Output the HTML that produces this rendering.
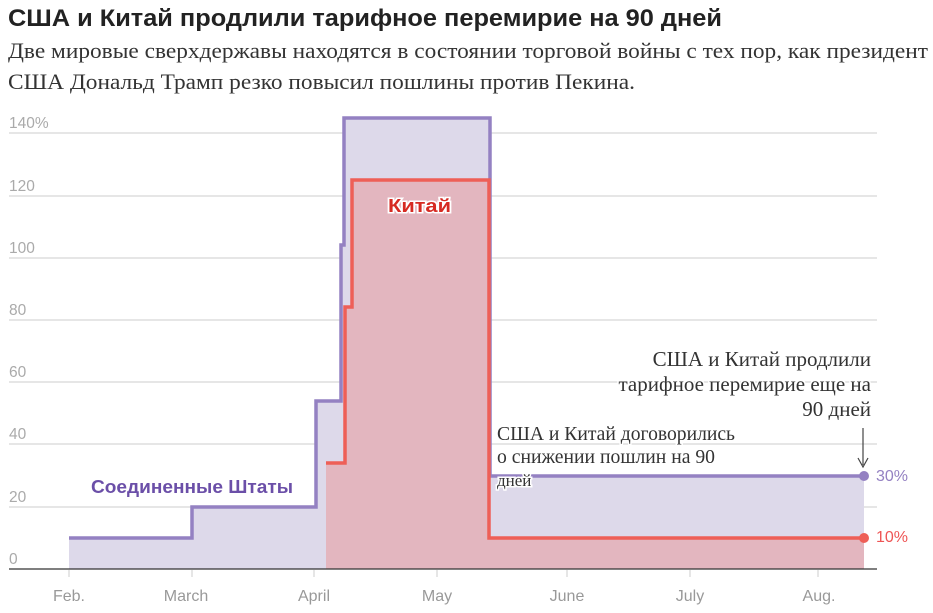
<!DOCTYPE html>
<html><head><meta charset="utf-8"><style>
body{margin:0;background:#fff;width:933px;height:613px;overflow:hidden}
</style></head><body>
<svg width="933" height="613" xmlns="http://www.w3.org/2000/svg" style="position:absolute;left:0;top:0">
<text x="8" y="26" font-family="Liberation Sans, sans-serif" font-weight="bold" font-size="24" fill="#222" textLength="714" lengthAdjust="spacingAndGlyphs">США и Китай продлили тарифное перемирие на 90 дней</text>
<text font-family="Liberation Serif, serif" font-size="22" fill="#333"><tspan x="8" y="58" textLength="920" lengthAdjust="spacingAndGlyphs">Две мировые сверхдержавы находятся в состоянии торговой войны с тех пор, как президент</tspan><tspan x="8" y="89" textLength="627" lengthAdjust="spacingAndGlyphs">США Дональд Трамп резко повысил пошлины против Пекина.</tspan></text>
<g stroke="#ccc" stroke-width="1">
<line x1="9" x2="877" y1="133" y2="133"/><line x1="9" x2="877" y1="196" y2="196"/><line x1="9" x2="877" y1="258" y2="258"/><line x1="9" x2="877" y1="320" y2="320"/><line x1="9" x2="877" y1="382" y2="382"/><line x1="9" x2="877" y1="444" y2="444"/><line x1="9" x2="877" y1="507" y2="507"/>
</g>
<g font-family="Liberation Sans, sans-serif" font-size="15.5" fill="#aaa">
<text x="9" y="128">140%</text><text x="9" y="191">120</text><text x="9" y="253">100</text><text x="9" y="315">80</text><text x="9" y="377">60</text><text x="9" y="439">40</text><text x="9" y="502">20</text><text x="9" y="564">0</text>
</g>
<path d="M69 569 V538 H192 V507 H316 V401 H341 V245 H344 V117 H490 V476 H864 V569 Z" fill="#ddd9ea"/>
<path d="M326 569 V463 H345 V307 H352 V180 H489 V538 H864 V569 Z" fill="#e3b6bf"/>
<path d="M69 538 H192 V507 H316 V401 H341 V245 H344 V118 H490 V476 H864" fill="none" stroke="#9481c2" stroke-width="3.5"/>
<path d="M326 463 H345 V307 H352 V180 H489 V538 H864" fill="none" stroke="#ee5f57" stroke-width="3.5"/>
<circle cx="864" cy="476" r="5" fill="#9481c2"/><circle cx="864" cy="538" r="5" fill="#ee5f57"/>
<line x1="9" x2="877" y1="569" y2="569" stroke="#333" stroke-width="1.2"/>
<g stroke="#ccc"><line x1="69" x2="69" y1="570" y2="577"/><line x1="192" x2="192" y1="570" y2="577"/><line x1="314" x2="314" y1="570" y2="577"/><line x1="437" x2="437" y1="570" y2="577"/><line x1="567" x2="567" y1="570" y2="577"/><line x1="690" x2="690" y1="570" y2="577"/><line x1="818" x2="818" y1="570" y2="577"/></g>
<g font-family="Liberation Sans, sans-serif" font-size="16" fill="#999" text-anchor="middle">
<text x="69" y="601">Feb.</text><text x="186" y="601">March</text><text x="314" y="601">April</text><text x="437" y="601">May</text><text x="567" y="601">June</text><text x="690" y="601">July</text><text x="819" y="601">Aug.</text>
</g>
<text x="876" y="481" font-family="Liberation Sans, sans-serif" font-size="16" fill="#9481c2">30%</text>
<text x="876" y="542" font-family="Liberation Sans, sans-serif" font-size="16" fill="#e55">10%</text>
<text x="91" y="493" font-family="Liberation Sans, sans-serif" font-weight="bold" font-size="18" fill="#6b4fa8" stroke="#fff" stroke-width="3" paint-order="stroke" textLength="202" lengthAdjust="spacingAndGlyphs">Соединенные Штаты</text>
<text x="388" y="212" font-family="Liberation Sans, sans-serif" font-weight="bold" font-size="18" fill="#d62a22" stroke="#fff" stroke-width="3" paint-order="stroke" textLength="63" lengthAdjust="spacingAndGlyphs">Китай</text>
<g font-family="Liberation Serif, serif" font-size="19.5" fill="#333" stroke="#fff" stroke-width="3" paint-order="stroke">
<text x="497" y="440" textLength="238" lengthAdjust="spacingAndGlyphs">США и Китай договорились</text><text x="497" y="463" textLength="218" lengthAdjust="spacingAndGlyphs">о снижении пошлин на 90</text><text x="497" y="486" font-size="17">дней</text>
<text x="871" y="366" text-anchor="end" font-size="21">США и Китай продлили</text><text x="871" y="391" text-anchor="end" font-size="21">тарифное перемирие еще на</text><text x="871" y="416" text-anchor="end" font-size="21">90 дней</text>
</g>
<line x1="863" x2="863" y1="428" y2="465" stroke="#444" stroke-width="1.2"/>
<path d="M858 458 L863 467 L868 458" fill="none" stroke="#444" stroke-width="1.2"/>
</svg>
</body></html>
